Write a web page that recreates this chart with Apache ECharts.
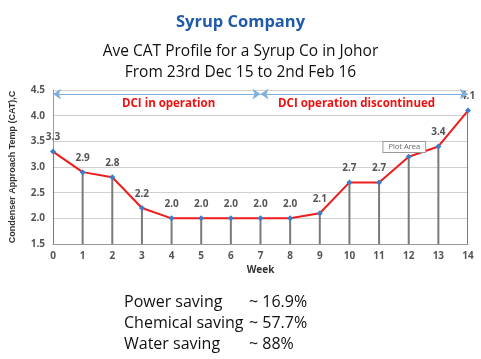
<!DOCTYPE html>
<html><head><meta charset="utf-8">
<script src="https://cdn.jsdelivr.net/npm/echarts@6/dist/echarts.min.js"></script>
<style>html,body{margin:0;padding:0;background:#fff}#c{width:481px;height:359px}</style>
</head><body><div id="c"></div>
<script>
const weeks = [0,1,2,3,4,5,6,7,8,9,10,11,12,13,14];
const cat   = [3.3,2.9,2.8,2.2,2.0,2.0,2.0,2.0,2.0,2.1,2.7,2.7,3.2,3.4,4.1];
const showLabel = [true,true,true,true,true,true,true,true,true,true,true,true,false,true,true];
const yTicks = [1.5,2.0,2.5,3.0,3.5,4.0,4.5];
const savingNames = ['Power saving','Chemical saving','Water saving'];
const savingValues = ['~ 16.9%','~ 57.7%','~ 88%'];
const phaseSplit = 7;

const pts = weeks.map((w,i)=>[w,cat[i]]);
const chart = echarts.init(document.getElementById('c'));
const font = '"Open Sans", "Liberation Sans", sans-serif';
chart.setOption({
  animation:false,
  grid:{left:50,right:13,top:90,bottom:115},
  title:[
    {text:'Syrup Company',left:'center',top:9,textStyle:{fontFamily:font,fontSize:16.5,fontWeight:'bold',color:'#1F5BAA'}},
    {text:'Ave CAT Profile for a Syrup Co in Johor\nFrom 23rd Dec 15 to 2nd Feb 16',left:'center',top:36,
     textStyle:{fontFamily:font,fontSize:15.5,fontWeight:'normal',color:'#111',lineHeight:21}}
  ],
  xAxis:{type:'value',min:0,max:14,interval:1,name:'Week',nameLocation:'middle',nameGap:21,
    nameTextStyle:{fontFamily:font,fontWeight:'bold',fontSize:10,color:'#333'},
    axisLine:{lineStyle:{color:'#999'}},axisTick:{show:false},splitLine:{show:false},
    axisLabel:{fontFamily:font,fontWeight:'bold',fontSize:10,color:'#555',margin:7}},
  yAxis:{type:'value',min:1.5,max:4.5,interval:0.5,name:'Condenser Approach Temp (CAT),C',nameLocation:'middle',nameGap:36,
    nameTextStyle:{fontFamily:'"Liberation Sans Narrow","Liberation Sans",sans-serif',fontWeight:'bold',fontSize:9,color:'#333'},
    axisLine:{show:true,lineStyle:{color:'#999',width:1}},axisTick:{show:false},
    splitLine:{lineStyle:{color:'#d0d0d0'}},
    axisLabel:{fontFamily:font,fontWeight:'bold',fontSize:10,color:'#555',formatter:v=>v.toFixed(1),margin:8}},
  series:[
    {type:'custom',data:pts,z:1,clip:true,
     renderItem:(params,api)=>{
       const top=api.coord([api.value(0),api.value(1)]);
       const bot=api.coord([api.value(0),1.5]);
       return {type:'line',shape:{x1:top[0],y1:top[1],x2:bot[0],y2:bot[1]},style:{stroke:'#7a7a7a',lineWidth:2}};
     }},
    {type:'line',data:pts,z:3,lineStyle:{color:'#ee1c1c',width:2},
     symbol:'diamond',symbolSize:6,itemStyle:{color:'#3a7fc8'},
     label:{show:true,position:'top',distance:6,fontFamily:font,fontWeight:'bold',fontSize:10,color:'#555',
       formatter:p=>showLabel[p.dataIndex]?p.value[1].toFixed(1):''},
     markLine:{silent:true,animation:false,label:{show:false},
       data:[
         [{coord:[0,4.42],symbol:'arrow'},{coord:[phaseSplit,4.42],symbol:'arrow'}],
         [{coord:[phaseSplit,4.42],symbol:'arrow'},{coord:[14,4.42],symbol:'arrow'}]
       ],symbolSize:[8,8],lineStyle:{color:'#7fb0e0',type:'solid',width:1}}},
    {type:'line',data:[],markLine:{silent:true,symbol:'none',label:{show:false},
       data:[[{coord:[phaseSplit,4.53]},{coord:[phaseSplit,2.79]}]],
       lineStyle:{color:'#5b8fd6',type:[2,2],width:1.5}}}
  ]
});
const pA = chart.convertToPixel('grid',[3.9,4.23]);
const pB = chart.convertToPixel('grid',[10.24,4.23]);
const pP = chart.convertToPixel('grid',[11.85,3.39]);
chart.setOption({graphic:[
  {type:'text',x:pA[0],y:pA[1],style:{text:'DCI in operation',fontFamily:font,fontWeight:'bold',fontSize:11.5,fill:'#ee1111',align:'center',verticalAlign:'middle'}},
  {type:'text',x:pB[0],y:pB[1],style:{text:'DCI operation discontinued',fontFamily:font,fontWeight:'bold',fontSize:11.5,fill:'#ee1111',align:'center',verticalAlign:'middle'}},
  {type:'text',x:pP[0],y:pP[1],z:10,style:{text:'Plot Area',fontFamily:font,fontSize:7.5,fill:'#666',align:'center',verticalAlign:'middle',
     backgroundColor:'#fff',borderColor:'#999',borderWidth:1,padding:[1,5]}},
  ...savingNames.map((n,i)=>({type:'text',x:124,y:302+i*21,style:{text:n,fontFamily:font,fontSize:16,fill:'#111',verticalAlign:'middle'}})),
  ...savingValues.map((n,i)=>({type:'text',x:249,y:302+i*21,style:{text:n,fontFamily:font,fontSize:16,fill:'#111',verticalAlign:'middle'}}))
]});
</script></body></html>
